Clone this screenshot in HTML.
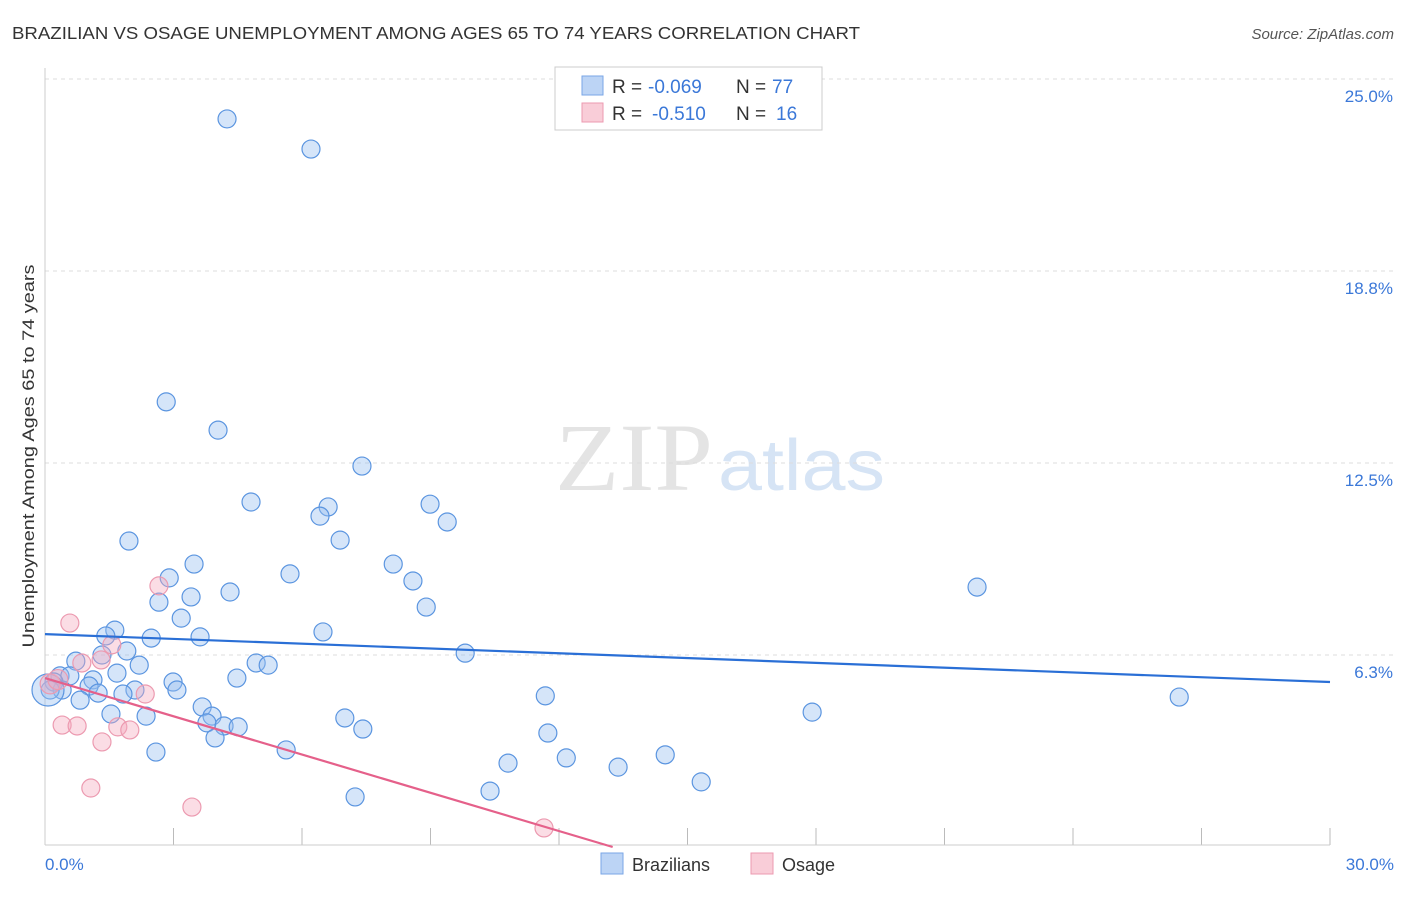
<!DOCTYPE html>
<html><head><meta charset="utf-8"><style>
body{margin:0;background:#fff;font-family:"Liberation Sans",sans-serif}
</style></head><body>
<svg width="1406" height="892" xmlns="http://www.w3.org/2000/svg">
<text x="12" y="39" font-size="17.5" fill="#333" textLength="848" lengthAdjust="spacingAndGlyphs">BRAZILIAN VS OSAGE UNEMPLOYMENT AMONG AGES 65 TO 74 YEARS CORRELATION CHART</text>
<text x="1394" y="39" font-size="15" fill="#555" font-style="italic" text-anchor="end">Source: ZipAtlas.com</text>
<text x="555" y="490" font-size="96" fill="#e4e4e4" textLength="158" lengthAdjust="spacingAndGlyphs" font-family="Liberation Serif">ZIP</text>
<text x="718" y="490" font-size="72" fill="#d6e4f5" textLength="167" lengthAdjust="spacingAndGlyphs">atlas</text>
<g id="grid"></g>
<line x1="45" y1="68" x2="45" y2="845" stroke="#ccc"/>
<line x1="45" y1="845" x2="1330" y2="845" stroke="#ccc"/>
<text transform="translate(34,456) rotate(-90)" font-size="17" fill="#333" text-anchor="middle" textLength="383" lengthAdjust="spacingAndGlyphs">Unemployment Among Ages 65 to 74 years</text>
<text x="45" y="870" font-size="17" fill="#3b78d8">0.0%</text>
<text x="1394" y="870" font-size="17" fill="#3b78d8" text-anchor="end">30.0%</text>
<g id="pts"></g>
<g id="lines"></g>
<g>
<rect x="555" y="67" width="267" height="63" fill="#fff" stroke="#ccc"/>
<rect x="582" y="76" width="21" height="19" fill="#bcd4f5" stroke="#7aa6e6"/>
<rect x="582" y="103" width="21" height="19" fill="#f9cdd8" stroke="#ec9ab0"/>
<text x="612" y="93" font-size="19" fill="#333">R =</text>
<text x="648" y="93" font-size="19" fill="#3b78d8">-0.069</text>
<text x="736" y="93" font-size="19" fill="#333">N =</text>
<text x="772" y="93" font-size="19" fill="#3b78d8">77</text>
<text x="612" y="120" font-size="19" fill="#333">R =</text>
<text x="652" y="120" font-size="19" fill="#3b78d8">-0.510</text>
<text x="736" y="120" font-size="19" fill="#333">N =</text>
<text x="776" y="120" font-size="19" fill="#3b78d8">16</text>
</g>
<g>
<rect x="601" y="853" width="22" height="21" fill="#bcd4f5" stroke="#7aa6e6"/>
<text x="632" y="871" font-size="18" fill="#333">Brazilians</text>
<rect x="751" y="853" width="22" height="21" fill="#f9cdd8" stroke="#ec9ab0"/>
<text x="782" y="871" font-size="18" fill="#333">Osage</text>
</g>
</svg>
<script>
const yTicks=[6.25,12.5,18.75,25];
const yTickLabels=["6.3%","12.5%","18.8%","25.0%"];
const xTicks=[0,3,6,9,12,15,18,21,24,27,30];
const bx=[4.25,6.21,2.83,4.04,7.40,4.81,6.61,6.42,8.99,9.39,1.96,6.89,3.48,2.90,5.72,8.13,8.59,21.76,4.32,3.41,2.66,8.90,3.18,1.63,1.42,2.48,3.62,6.49,1.91,1.33,9.81,0.72,2.20,4.93,5.21,1.68,0.35,0.58,0.21,1.12,2.99,4.48,1.03,0.40,0.12,2.10,3.08,1.24,1.82,0.82,11.68,26.48,3.67,2.36,1.54,3.90,17.91,7.00,3.78,4.18,4.51,7.42,11.74,3.97,2.59,5.63,12.17,14.48,10.81,13.38,15.32,10.39,7.24,0.07];
const by=[23.70,22.72,14.49,13.57,12.40,11.23,11.07,10.77,11.16,10.58,9.96,9.99,9.21,8.76,8.89,9.21,8.66,8.46,8.30,8.14,7.97,7.81,7.45,7.06,6.87,6.80,6.84,7.00,6.38,6.25,6.31,6.05,5.92,5.99,5.92,5.66,5.57,5.57,5.37,5.44,5.37,5.50,5.24,5.11,5.11,5.11,5.11,5.01,4.98,4.78,4.92,4.88,4.56,4.26,4.33,4.26,4.39,4.20,4.04,3.94,3.91,3.84,3.71,3.55,3.09,3.16,2.90,3.00,2.73,2.60,2.12,1.82,1.63,5.11];
const px=[0.58,2.66,1.56,1.31,0.86,2.34,0.40,0.75,1.70,1.98,1.33,1.07,3.43,11.65,0.12,0.30];
const py=[7.29,8.50,6.58,6.09,5.99,4.98,3.97,3.94,3.91,3.81,3.42,1.92,1.30,0.62,5.31,5.45];
const blueTrend=[6.93,-0.052];
const pinkTrend=[5.50,-0.415];
const X=v=>45+v/30*1285, Y=v=>847-v*30.72;
const NS="http://www.w3.org/2000/svg";
function mk(t,a,p){const e=document.createElementNS(NS,t);for(const k in a)e.setAttribute(k,a[k]);p.appendChild(e);return e;}
const g=document.getElementById('grid');
yTicks.forEach((v,i)=>{
 const l=mk('line',{x1:45,x2:1394,y1:Y(v),y2:Y(v),stroke:'#ddd','stroke-dasharray':'4,4'},g);
 
 
 const t=mk('text',{x:1393,y:Y(v)+23,'font-size':17,fill:'#3b78d8','text-anchor':'end'},g);
 t.textContent=yTickLabels[i];
 
 
});
xTicks.forEach(v=>{
 const l=mk('line',{x1:X(v),x2:X(v),y1:828,y2:845,stroke:'#bbb'},g);
 
 
});
const p=document.getElementById('pts');
bx.forEach((v,i)=>{
 const c=mk('circle',{cx:X(v),cy:Y(by[i]),r:i==bx.length-1?16:9,fill:'rgba(150,190,240,0.4)',stroke:'#5b95e0','stroke-width':1.2},p);
 
 
});
px.forEach((v,i)=>{
 const c=mk('circle',{cx:X(v),cy:Y(py[i]),r:i>=14?10:9,fill:'rgba(245,170,190,0.4)',stroke:'#ec9ab0','stroke-width':1.2},p);
 
 
});
const L=document.getElementById('lines');
const bl=mk('line',{x1:X(0),y1:Y(blueTrend[0]),x2:X(30),y2:Y(blueTrend[0]+blueTrend[1]*30),stroke:'#2a6fd6','stroke-width':2.2},L);


const xe=-pinkTrend[0]/pinkTrend[1];
const pl=mk('line',{x1:X(0),y1:Y(pinkTrend[0]),x2:X(xe),y2:Y(0),stroke:'#e5608a','stroke-width':2.2},L);


</script>
</body></html>
